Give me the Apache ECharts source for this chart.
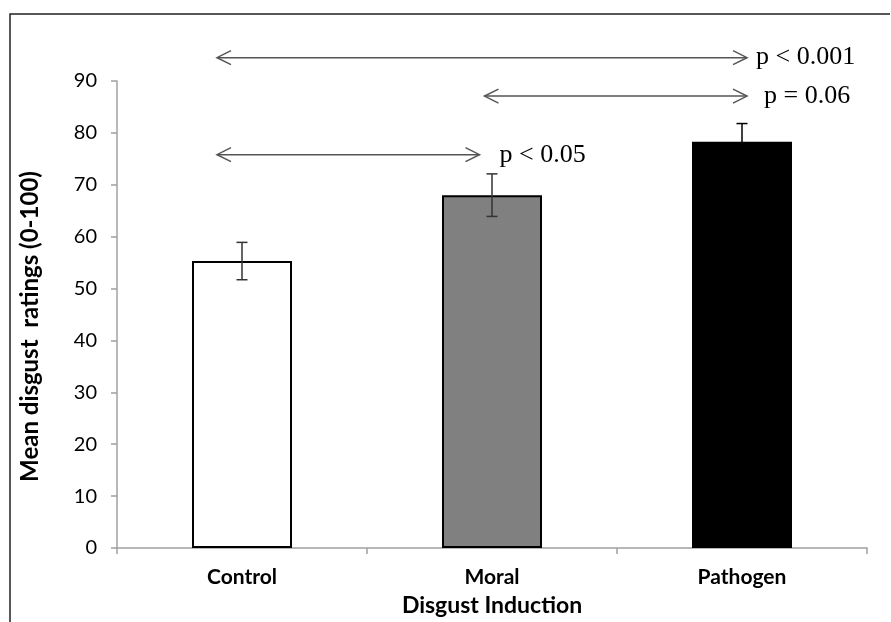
<!DOCTYPE html>
<html>
<head>
<meta charset="utf-8">
<script src="https://cdn.jsdelivr.net/npm/echarts@6/dist/echarts.min.js"></script>
<style>html,body{margin:0;padding:0;background:#fff;}#c{width:891px;height:622px;}</style>
</head>
<body>
<div id="c"></div>
<script>
// ---- data ----
const categories = ['Control', 'Moral', 'Pathogen'];
const meanRatings = [55.3, 68.0, 78.3];
const errorSize = [3.6, 4.1, 3.5];
const yTicks = [0, 10, 20, 30, 40, 50, 60, 70, 80, 90];
// comparison arrows (x in category index units, y in rating units)
const arrowFrom = [-0.1, 0.97, -0.1];
const arrowTo = [2.02, 2.02, 0.95];
const arrowLevel = [94.5, 87.1, 75.8];
const arrowText = ['p < 0.001', 'p = 0.06', 'p < 0.05'];

// ---- styles ----
const barColors = ['#ffffff', '#808080', '#000000'];
const labelGap = [9, 17, 20];
const sansFont = 'Lato, "Open Sans", sans-serif';

const chart = echarts.init(document.getElementById('c'));

const barData = meanRatings.map((v, i) => ({
  value: v,
  itemStyle: { color: barColors[i], borderColor: '#000', borderWidth: 2 }
}));
const errData = meanRatings.map((v, i) => [i, v - errorSize[i], v + errorSize[i]]);
const arrowData = arrowFrom.map((f, i) => [f, arrowTo[i], arrowLevel[i], i]);

chart.setOption({
  animation: false,
  backgroundColor: '#fff',
  grid: { left: 117, right: 24, top: 81, bottom: 70, containLabel: false },
  xAxis: [
    {
      type: 'category',
      data: categories,
      axisLine: { show: true, onZero: false, lineStyle: { color: '#a0a0a0', width: 1.5 } },
      axisTick: { show: true, length: 6, alignWithLabel: false, lineStyle: { color: '#a0a0a0', width: 1.5 } },
      axisLabel: { color: '#000', fontFamily: sansFont, fontWeight: 'bold', fontSize: 21, margin: 19 },
      name: 'Disgust Induction',
      nameLocation: 'middle',
      nameGap: 46,
      nameTextStyle: { color: '#000', fontFamily: sansFont, fontWeight: 'bold', fontSize: 23 },
      splitLine: { show: false }
    },
    {
      type: 'value', min: -0.5, max: 2.5, show: false,
      axisLine: { show: false, onZero: false }, axisTick: { show: false }, axisLabel: { show: false }, splitLine: { show: false }
    }
  ],
  yAxis: {
    type: 'value',
    min: yTicks[0],
    max: yTicks[yTicks.length - 1],
    interval: yTicks[1] - yTicks[0],
    axisLine: { show: true, onZero: false, lineStyle: { color: '#a0a0a0', width: 1.5 } },
    axisTick: { show: true, length: 6, lineStyle: { color: '#a0a0a0', width: 1.5 } },
    axisLabel: { color: '#000', fontFamily: sansFont, fontSize: 20, margin: 20 },
    splitLine: { show: false },
    name: 'Mean disgust  ratings (0-100)',
    nameLocation: 'middle',
    nameGap: 75,
    nameRotate: 90,
    nameTextStyle: { color: '#000', fontFamily: sansFont, fontWeight: 'bold', fontSize: 24, padding: [0, 24, 0, 0] }
  },
  series: [
    {
      type: 'bar',
      xAxisIndex: 0,
      data: barData,
      barWidth: '40%',
      z: 2
    },
    {
      type: 'custom',
      xAxisIndex: 0,
      data: errData,
      z: 3,
      renderItem: function (params, api) {
        const x = api.value(0);
        const lo = api.coord([x, api.value(1)]);
        const hi = api.coord([x, api.value(2)]);
        const hw = 5.5;
        const idx = params.dataIndex;
        const col = idx === 2 ? '#000' : '#333';
        return {
          type: 'group',
          children: [
            { type: 'line', shape: { x1: hi[0], y1: hi[1], x2: lo[0], y2: lo[1] }, style: { stroke: col, lineWidth: 1.5 } },
            { type: 'line', shape: { x1: hi[0] - hw, y1: hi[1], x2: hi[0] + hw, y2: hi[1] }, style: { stroke: col, lineWidth: 1.5 } },
            { type: 'line', shape: { x1: lo[0] - hw, y1: lo[1], x2: lo[0] + hw, y2: lo[1] }, style: { stroke: col, lineWidth: 1.5 } }
          ]
        };
      }
    },
    {
      type: 'custom',
      xAxisIndex: 1,
      data: arrowData,
      z: 4,
      clip: false,
      renderItem: function (params, api) {
        const a = api.coord([api.value(0), api.value(2)]);
        const b = api.coord([api.value(1), api.value(2)]);
        const i = api.value(3);
        const hl = 14, hh = 7;
        const st = { stroke: '#555', lineWidth: 1.5, fill: null };
        return {
          type: 'group',
          children: [
            { type: 'line', shape: { x1: a[0], y1: a[1], x2: b[0], y2: b[1] }, style: st },
            { type: 'polyline', shape: { points: [[a[0] + hl, a[1] - hh], [a[0], a[1]], [a[0] + hl, a[1] + hh]] }, style: st },
            { type: 'polyline', shape: { points: [[b[0] - hl, b[1] - hh], [b[0], b[1]], [b[0] - hl, b[1] + hh]] }, style: st },
            {
              type: 'text',
              x: b[0] + labelGap[i],
              y: b[1],
              style: {
                text: arrowText[i],
                fill: '#000',
                font: '26px "Liberation Serif", "Times New Roman", serif',
                textAlign: 'left',
                textVerticalAlign: 'middle',
                verticalAlign: 'middle'
              }
            }
          ]
        };
      }
    }
  ],
  graphic: [
    {
      type: 'polyline',
      shape: { points: [[10, 622], [10, 14], [890, 14]] },
      style: { stroke: '#222', lineWidth: 1.5, fill: null },
      silent: true
    }
  ]
});
</script>
</body>
</html>
